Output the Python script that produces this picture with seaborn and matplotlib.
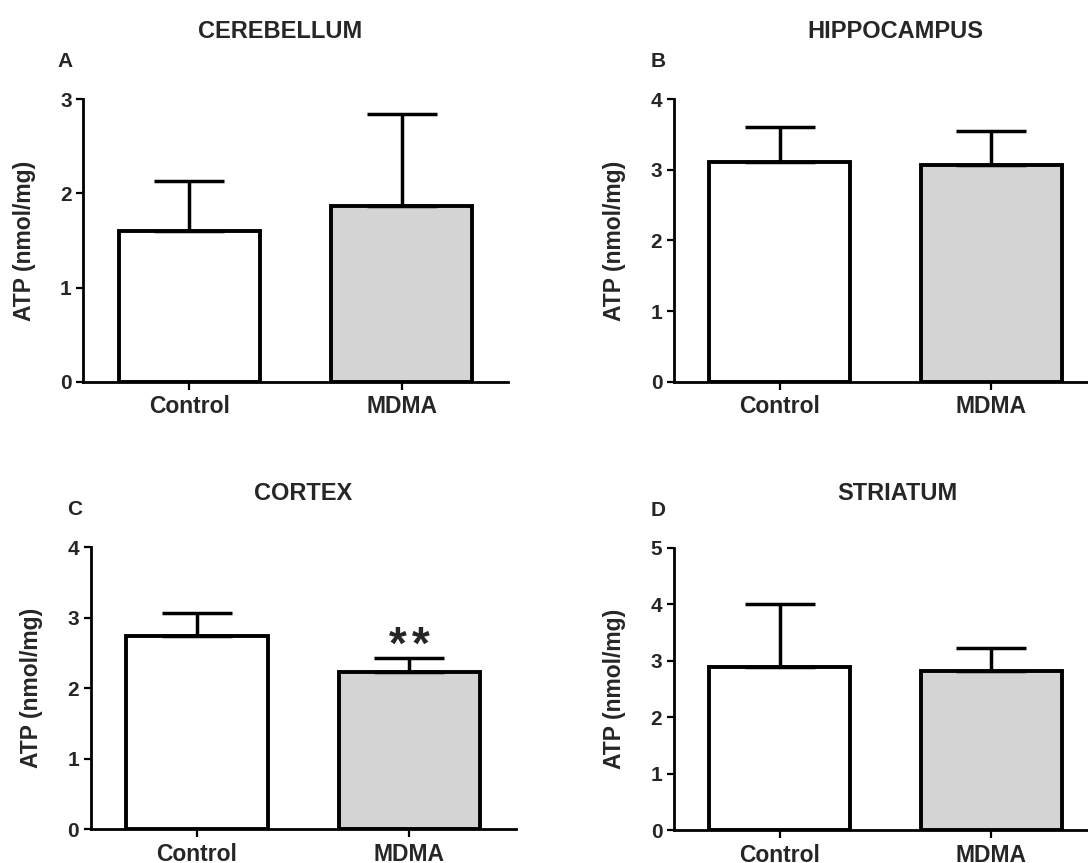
import numpy as np
import pandas as pd
import matplotlib
matplotlib.use("Agg")
import matplotlib.pyplot as plt
import seaborn as sns

# ---- data ----
groups = ["Control", "MDMA"]
regions = ["CEREBELLUM", "HIPPOCAMPUS", "CORTEX", "STRIATUM"]
letters = ["A", "B", "C", "D"]
cerebellum_mean = [1.60, 1.87]
cerebellum_sd = [0.53, 0.97]
hippocampus_mean = [3.11, 3.07]
hippocampus_sd = [0.50, 0.48]
cortex_mean = [2.74, 2.23]
cortex_sd = [0.33, 0.20]
striatum_mean = [2.88, 2.82]
striatum_sd = [1.13, 0.41]
y_max = [3, 4, 4, 5]
significance_stars = [0, 0, 2, 0]  # number of asterisks above MDMA bar

means = [cerebellum_mean, hippocampus_mean, cortex_mean, striatum_mean]
sds = [cerebellum_sd, hippocampus_sd, cortex_sd, striatum_sd]

sns.set_style("ticks")
plt.rcParams["font.family"] = ["Liberation Sans", "DejaVu Sans"]
plt.rcParams["font.weight"] = "bold"

W, H = 1088, 863
fig = plt.figure(figsize=(W / 100, H / 100), dpi=100)

# axes boxes in pixels: left, top, right, bottom
boxes = [
    (83.3, 99.3, 508.0, 381.7),
    (674.0, 99.3, 1097.0, 381.7),
    (90.7, 547.3, 515.7, 829.3),
    (674.0, 547.7, 1097.0, 830.0),
]
title_pos = [(280.5, 38.0), (895.6, 38.0), (303.0, 500.0), (897.0, 500.0)]
letter_pos = [(57.5, 67.3), (651.0, 67.0), (67.5, 515.0), (651.0, 516.0)]

palette = ["#ffffff", "#d4d4d4"]

for i in range(4):
    l, t, r, b = boxes[i]
    ax = fig.add_axes([l / W, 1 - b / H, (r - l) / W, (b - t) / H])
    df = pd.DataFrame({"group": groups, "atp": means[i]})
    sns.barplot(data=df, x="group", y="atp", hue="group", palette=palette,
                width=0.665, edgecolor="black", linewidth=2.8, errorbar=None,
                legend=False, ax=ax, zorder=2, saturation=1)
    ax.errorbar(x=np.arange(len(groups)), y=means[i],
                yerr=[np.zeros(len(groups)), sds[i]], fmt="none",
                ecolor="black", elinewidth=2.5, capsize=25.5, capthick=2.5,
                zorder=3)
    ax.set_xlim(-0.5, 1.5)
    ax.set_ylim(0, y_max[i])
    ax.set_yticks(np.arange(0, y_max[i] + 1, 1))
    ax.set_xlabel("")
    ax.set_ylabel("ATP (nmol/mg)", fontsize=16.5, fontweight="bold")
    ax.yaxis.set_label_coords(-47.5 / (r - l), 0.5)
    for s in ["top", "right"]:
        ax.spines[s].set_visible(False)
    for s in ["left", "bottom"]:
        ax.spines[s].set_linewidth(2.0)
        ax.spines[s].set_color("black")
    ax.tick_params(axis="y", direction="out", length=5.4, width=1.6,
                   labelsize=15, pad=3, color="black")
    ax.tick_params(axis="x", direction="out", length=5.8, width=1.6,
                   labelsize=16.5, pad=4.0, color="black")
    for lab in ax.get_xticklabels() + ax.get_yticklabels():
        lab.set_fontweight("bold")
    n = significance_stars[i]
    if n:
        offs = (np.arange(n) - (n - 1) / 2) * 17.0
        for dx in offs:
            ax.annotate("*", xy=(1, means[i][1] + sds[i][1]),
                        xytext=(dx, -0.5), textcoords="offset points",
                        ha="center", va="baseline", fontsize=33,
                        fontweight="bold")
    tx, ty = title_pos[i]
    fig.text(tx / W, 1 - ty / H, regions[i], ha="center", va="baseline",
             fontsize=17, fontweight="bold")
    lx, ly = letter_pos[i]
    fig.text(lx / W, 1 - ly / H, letters[i], ha="left", va="baseline",
             fontsize=15, fontweight="bold")

fig.savefig("out.png", dpi=100)
